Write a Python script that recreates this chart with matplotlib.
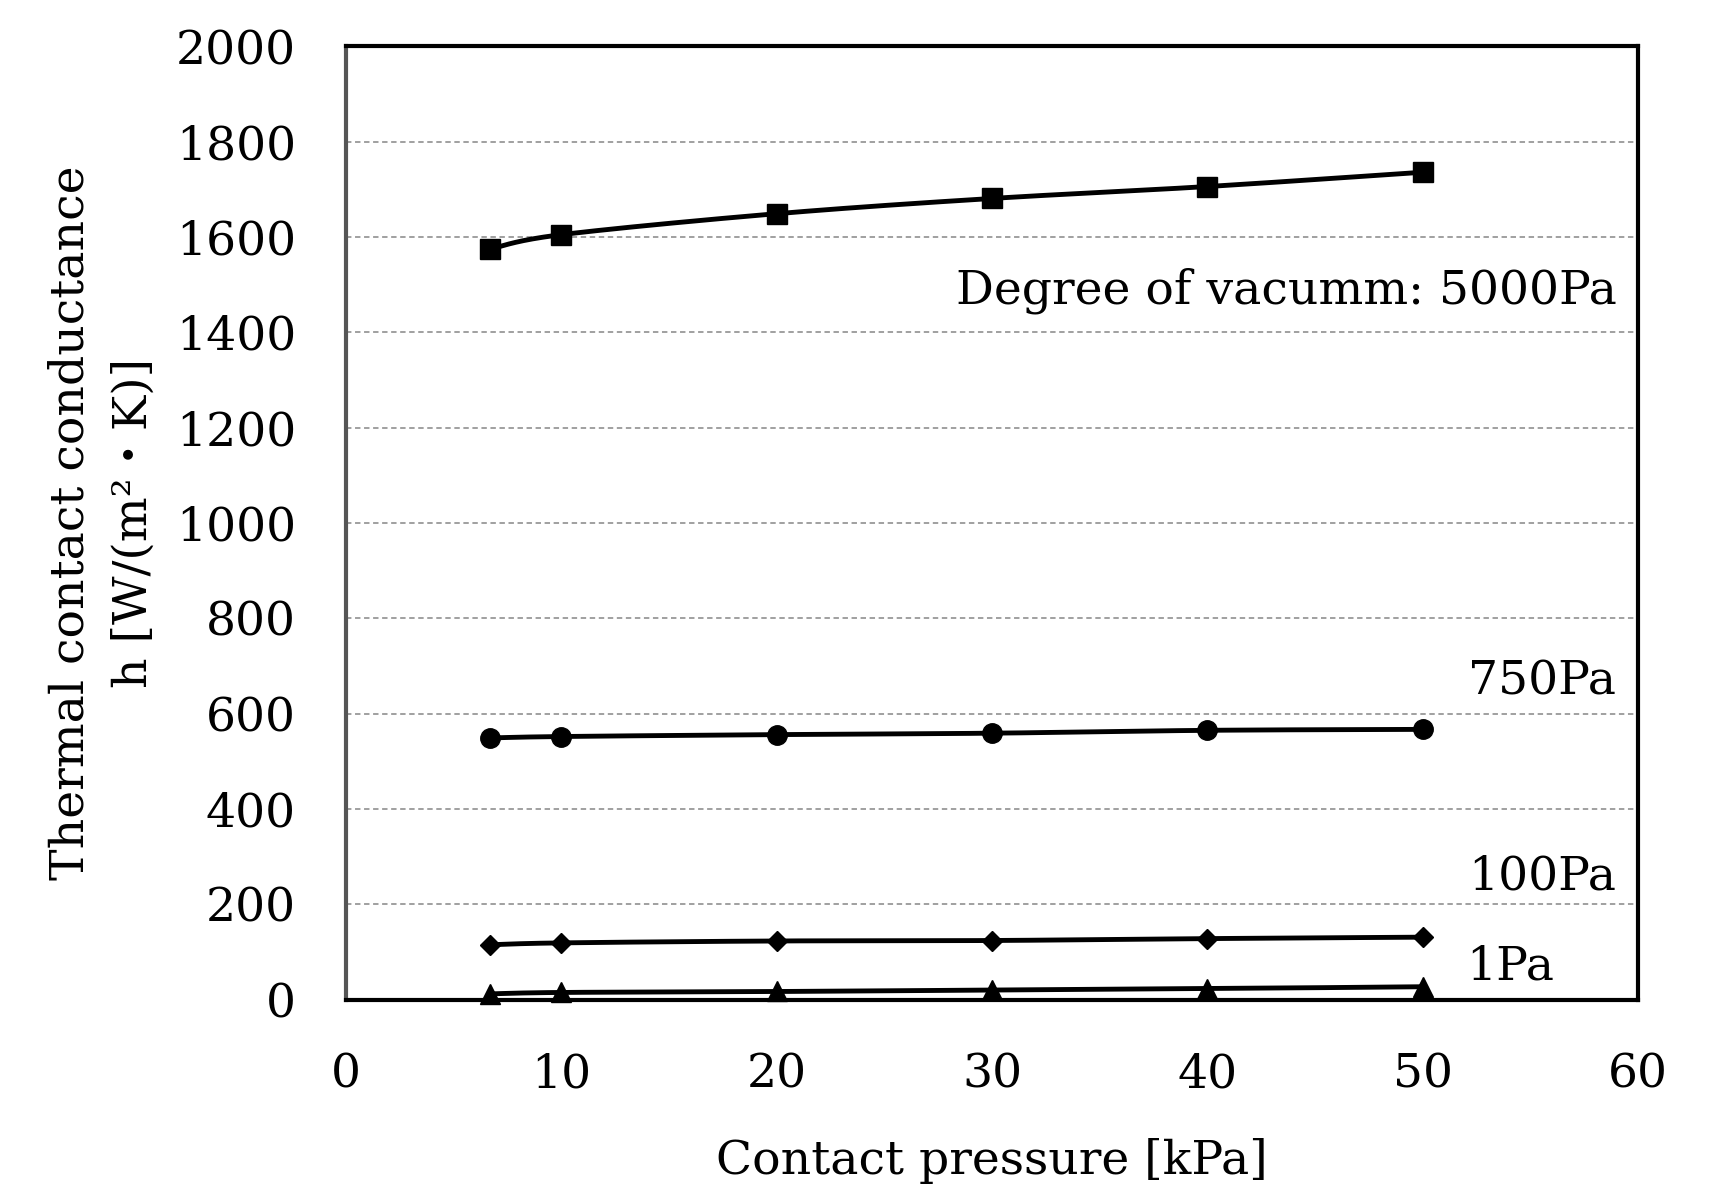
import numpy as np
import matplotlib
matplotlib.use('Agg')
import matplotlib.pyplot as plt

plt.rcParams['font.family'] = ['DejaVu Serif', 'Noto Sans CJK JP']

# contact pressure [kPa]
pressure = [6.7, 10, 20, 30, 40, 50]

# thermal contact conductance [W/(m2 K)] for each degree of vacuum
h_5000 = [1575, 1605, 1649, 1681, 1706, 1736]
h_750 = [549, 552, 556, 559, 565, 567]
h_100 = [115, 119, 123, 124, 128, 131]
h_1 = [12, 15, 17, 20, 23, 27]

series_labels = ['Degree of vacumm: 5000Pa', '750Pa', '100Pa', '1Pa']
series_markers = ['s', 'o', 'D', '^']
series_sizes = [15, 14, 10, 14]

x_ticks = [0, 10, 20, 30, 40, 50, 60]
y_ticks = [0, 200, 400, 600, 800, 1000, 1200, 1400, 1600, 1800, 2000]

FS = 34


def smooth(x, y, n=30):
    # Catmull-Rom style smoothing, similar to Excel's smoothed line
    x = np.asarray(x, float)
    y = np.asarray(y, float)
    px = np.concatenate([[x[0]], x, [x[-1]]])
    py = np.concatenate([[y[0]], y, [y[-1]]])
    xs, ys = [], []
    t = np.linspace(0, 1, n)
    for i in range(1, len(px) - 2):
        p0, p1, p2, p3 = (np.array([px[j], py[j]]) for j in range(i - 1, i + 3))
        c1 = p1 + (p2 - p0) / 6
        c2 = p2 - (p3 - p1) / 6
        pts = ((1 - t) ** 3)[:, None] * p1 + (3 * (1 - t) ** 2 * t)[:, None] * c1 \
            + (3 * (1 - t) * t ** 2)[:, None] * c2 + (t ** 3)[:, None] * p2
        xs.extend(pts[:, 0])
        ys.extend(pts[:, 1])
    return xs, ys


fig = plt.figure(figsize=(17.17, 11.9), dpi=100)
ax = fig.add_axes([0.2015, 0.160, 0.7525, 0.801])

for vals, mk, ms in zip([h_5000, h_750, h_100, h_1], series_markers, series_sizes):
    sx, sy = smooth(pressure, vals)
    ax.plot(sx, sy, color='black', lw=3.5, zorder=3, clip_on=False)
    ax.plot(pressure, vals, linestyle='none', marker=mk, ms=ms,
            color='black', zorder=4, clip_on=False)

ax.set_xlim(0, 60)
ax.set_ylim(0, 2000)
ax.set_xticks(x_ticks)
ax.set_yticks(y_ticks)
ax.tick_params(axis='both', length=0, labelsize=FS)
ax.tick_params(axis='y', pad=36)
ax.tick_params(axis='x', pad=38)

ax.yaxis.grid(True, linestyle=(0, (3, 2)), color='#999999', lw=1.3)
ax.set_axisbelow(True)

for s in ['top', 'right', 'bottom']:
    ax.spines[s].set_linewidth(3)
    ax.spines[s].set_color('black')
ax.spines['left'].set_linewidth(3)
ax.spines['left'].set_color('#555555')
ax.spines['bottom'].set_zorder(5)

ax.set_xlabel('Contact pressure [kPa]', fontsize=FS, labelpad=29)
ax.set_ylabel('Thermal contact conductance\nh [W/(m²・K)]', fontsize=FS,
              labelpad=14, linespacing=1.5)

ax.text(59.0, 1488, series_labels[0], fontsize=FS, ha='right', va='center')
ax.text(59.0, 666, series_labels[1], fontsize=FS, ha='right', va='center')
ax.text(59.0, 257, series_labels[2], fontsize=FS, ha='right', va='center')
ax.text(52.0, 69, series_labels[3], fontsize=FS, ha='left', va='center')

fig.savefig('out.png', dpi=100)
